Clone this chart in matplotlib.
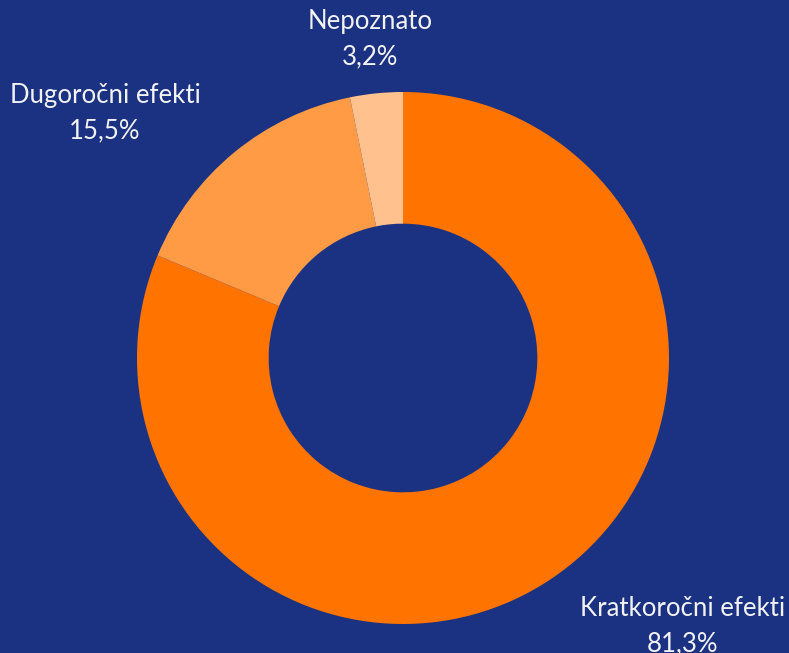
import matplotlib.pyplot as plt

# Data
categories = ['Kratkoročni efekti', 'Dugoročni efekti', 'Nepoznato']
shares = [81.3, 15.5, 3.2]
share_labels = ['81,3%', '15,5%', '3,2%']
colors = ['#FF7300', '#FF9B45', '#FFC28F']

BG = '#1B3282'
TEXT = '#F2F2F2'

W, H = 789, 653
fig = plt.figure(figsize=(W / 100, H / 100), dpi=100)
fig.patch.set_facecolor(BG)
ax = fig.add_axes([0, 0, 1, 1])
ax.set_facecolor(BG)
ax.set_aspect('equal')
ax.axis('off')

# Donut, starting at 12 o'clock, running clockwise
cx, cy, r = 403, H - 358, 266
wedges, _ = ax.pie(shares, colors=colors, startangle=90, counterclock=False,
                   center=(cx, cy), radius=r,
                   wedgeprops=dict(width=r * 0.495, linewidth=0))
ax.set_xlim(0, W)
ax.set_ylim(0, H)

# Label positions (pixel space, y from top)
label_pos = [(683, 608), (105, 95), (370, 21)]
for name, pct, (x, y) in zip(categories, share_labels, label_pos):
    ax.text(x, H - y, name, ha='center', va='center', color=TEXT,
            fontsize=18.5, family='Lato')
    ax.text(x, H - y - 36, pct, ha='center', va='center', color=TEXT,
            fontsize=18.5, family='Lato')

fig.savefig('out.png', dpi=100, facecolor=BG)
